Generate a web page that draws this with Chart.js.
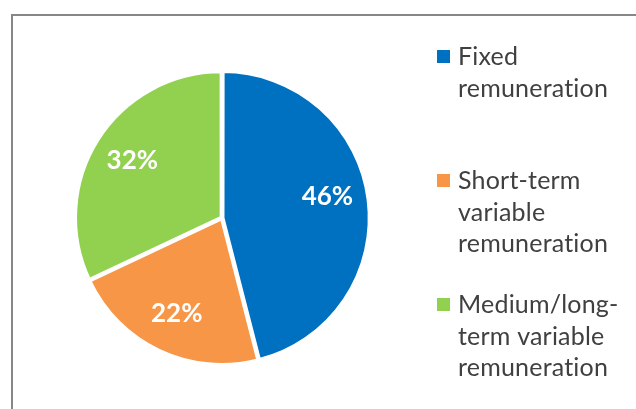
<!DOCTYPE html>
<html>
<head>
<meta charset="utf-8">
<script src="https://cdn.jsdelivr.net/npm/chart.js@4"></script>
<style>
  html, body { margin: 0; padding: 0; background: #fff; }
  #wrap { position: relative; width: 636px; height: 409px; overflow: hidden; }
  #frame {
    position: absolute; left: 11px; top: 14px; width: 700px; height: 500px;
    border-top: 2px solid #878787; border-left: 2px solid #878787;
  }
  canvas { position: absolute; left: 0; top: 0; }
</style>
</head>
<body>
<div id="wrap">
  <div id="frame"></div>
  <canvas id="pie" width="636" height="409"></canvas>
</div>
<script>
// Data
const categories = ['Fixed remuneration', 'Short-term variable remuneration', 'Medium/long-term variable remuneration'];
const shares = [46, 22, 32];
const colors = ['#0070C0', '#F79646', '#92D050'];

const fontFamily = 'Lato, "Open Sans", sans-serif';

// break text after spaces or hyphens so each line fits maxWidth
const wrapText = (ctx, text, maxWidth) => {
  const tokens = text.match(/[^\s-]+-?\s*/g) || [];
  const lines = [];
  let line = '';
  tokens.forEach((tok) => {
    const test = line + tok;
    if (line && ctx.measureText(test.trim()).width > maxWidth) {
      lines.push(line.trim());
      line = tok;
    } else {
      line = test;
    }
  });
  if (line) lines.push(line.trim());
  return lines;
};

// percentage labels inside slices
const sliceLabels = {
  id: 'sliceLabels',
  afterDatasetsDraw(chart) {
    const ctx = chart.ctx;
    const meta = chart.getDatasetMeta(0);
    ctx.save();
    ctx.font = 'bold 26px ' + fontFamily;
    ctx.fillStyle = '#fff';
    ctx.textAlign = 'center';
    ctx.textBaseline = 'middle';
    meta.data.forEach((arc, i) => {
      const { x, y, startAngle, endAngle, outerRadius } = arc.getProps(['x', 'y', 'startAngle', 'endAngle', 'outerRadius'], true);
      const mid = (startAngle + endAngle) / 2;
      const r = outerRadius * 0.73;
      ctx.fillText(shares[i] + '%', x + Math.cos(mid) * r, y + Math.sin(mid) * r - (i === 0 ? 8 : 0));
    });
    ctx.restore();
  },
};

// legend on the right, wrapped like the original
const sideLegend = {
  id: 'sideLegend',
  afterDraw(chart) {
    const ctx = chart.ctx;
    ctx.save();
    ctx.font = '25px ' + fontFamily;
    ctx.letterSpacing = '0.2px';
    ctx.textBaseline = 'alphabetic';
    categories.forEach((cat, i) => {
      const base = 65 + i * 124;
      ctx.fillStyle = colors[i];
      ctx.fillRect(437, base - 15, 13, 13);
      ctx.fillStyle = '#404040';
      wrapText(ctx, cat, 168).forEach((ln, j) => {
        ctx.fillText(ln, 458, base + j * 31.5);
      });
    });
    ctx.restore();
  },
};

new Chart(document.getElementById('pie'), {
  type: 'pie',
  data: {
    labels: categories,
    datasets: [{
      data: shares,
      backgroundColor: colors,
      borderColor: '#fff',
      borderWidth: 3,
      offset: 4,
    }],
  },
  options: {
    responsive: false,
    animation: false,
    layout: { padding: { left: 73, right: 265, top: 69, bottom: 42 } },
    plugins: {
      legend: { display: false },
      tooltip: { enabled: false },
    },
  },
  plugins: [sliceLabels, sideLegend],
});
</script>
</body>
</html>
